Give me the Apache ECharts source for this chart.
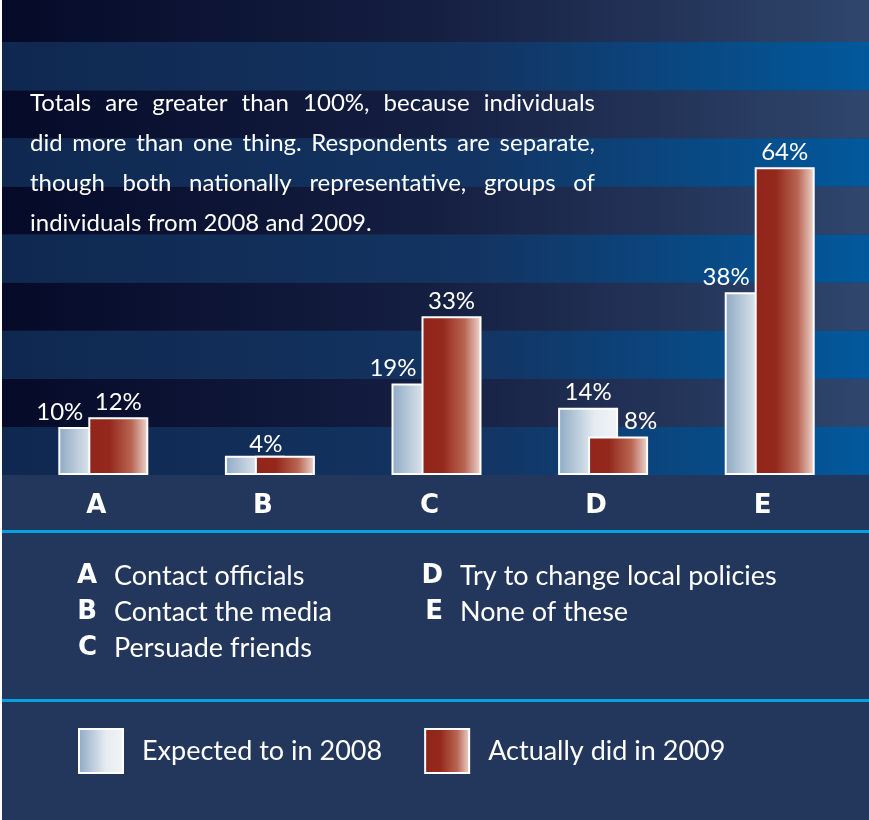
<!DOCTYPE html>
<html>
<head>
<meta charset="utf-8">
<script src="https://cdn.jsdelivr.net/npm/echarts@6/dist/echarts.min.js"></script>
<style>
  html, body { margin: 0; padding: 0; background: #fff; }
  #chart { width: 869px; height: 820px; }
</style>
</head>
<body>
<div id="chart"></div>
<script>
// data
const categories = ['A', 'B', 'C', 'D', 'E']
const categoryNames = ['Contact officials', 'Contact the media', 'Persuade friends', 'Try to change local policies', 'None of these']
const seriesNames = ['Expected to in 2008', 'Actually did in 2009']
const expected2008 = [10, 4, 19, 14, 38]
const actual2009 = [12, 4, 33, 8, 64]
const noteLines = [
  'Totals are greater than 100%, because individuals',
  'did more than one thing. Respondents are separate,',
  'though both nationally representative, groups of',
  'individuals from 2008 and 2009.'
]

const textFont = 'Lato'
const letterFont = 'DejaVu Sans'
const G = echarts.graphic

const fill2008 = new G.LinearGradient(0, 0, 1, 0, [
  { offset: 0, color: '#8ea9c4' },
  { offset: 0.6, color: '#e4ebf1' },
  { offset: 1, color: '#f3f5f7' }
])
const fill2009 = new G.LinearGradient(0, 0, 1, 0, [
  { offset: 0, color: '#91251a' },
  { offset: 0.35, color: '#94281b' },
  { offset: 0.72, color: '#b96654' },
  { offset: 1, color: '#efdad3' }
])
// background stripes, one per 10% of the value axis
const bandLight = new G.LinearGradient(0, 0, 1, 0, [
  { offset: 0, color: '#0f2850' },
  { offset: 0.55, color: '#133462' },
  { offset: 1, color: '#01599d' }
])
const bandDark = new G.LinearGradient(0, 0, 1, 0, [
  { offset: 0, color: '#050a28' },
  { offset: 0.5, color: '#151f42' },
  { offset: 1, color: '#30466c' }
])

// label tweaks where the overlapping bars would collide
function label2008(i) {
  if (i === 1) return { show: false }
  if (expected2008[i] > actual2009[i]) return {}
  return { align: 'right', offset: [-5, 0] }
}
function label2009(i) {
  if (i === 1) return { offset: [-19, 4] }
  if (expected2008[i] > actual2009[i]) return { align: 'left', offset: [6, 0] }
  return {}
}

// justified note text, one word per element
function noteGraphics() {
  const ctx = document.createElement('canvas').getContext('2d')
  const font = '24px ' + textFont
  ctx.font = font
  const left = 30
  const right = 595
  const out = []
  noteLines.forEach(function(line, li) {
    const words = line.split(' ')
    const y = 103 + li * 40
    if (li === noteLines.length - 1) {
      out.push({ type: 'text', x: left, y: y, z: 10, style: { text: line, fill: '#fff', font: font, verticalAlign: 'middle' } })
      return
    }
    const widths = words.map(function(w) { return ctx.measureText(w).width })
    const total = widths.reduce(function(a, b) { return a + b }, 0)
    const gap = (right - left - total) / (words.length - 1)
    let x = left
    words.forEach(function(w, wi) {
      out.push({ type: 'text', x: x, y: y, z: 10, style: { text: w, fill: '#fff', font: font, verticalAlign: 'middle' } })
      x += widths[wi] + gap
    })
  })
  return out
}

function keyGraphics() {
  const out = []
  categories.forEach(function(c, i) {
    const col = i < 3 ? 0 : 1
    const row = i % 3
    const y = 576.5 + row * 36
    out.push({ type: 'text', x: [97, 443][col], y: y, z: 10, style: { text: c, fill: '#fff', font: 'bold 26px ' + letterFont, align: 'right', verticalAlign: 'middle' } })
    out.push({ type: 'text', x: [114, 460][col], y: y, z: 10, style: { text: categoryNames[i], fill: '#fff', font: '27px ' + textFont, verticalAlign: 'middle' } })
  })
  return out
}

const chart = echarts.init(document.getElementById('chart'))

const labelBase = {
  show: true,
  position: 'top',
  distance: 3,
  color: '#fff',
  fontFamily: textFont,
  fontSize: 24,
  formatter: '{c}%'
}

// 4.81px per percent: the plot reaches the top edge at 98.75%
const yMax = 98.75

chart.setOption({
  backgroundColor: '#23375c',
  animation: false,
  grid: [
    { left: 20, right: 16, top: 0, bottom: 345 },
    { left: 2, right: 0, top: 0, bottom: 345 }
  ],
  xAxis: [
    {
      type: 'category',
      data: categories,
      axisLine: { show: false },
      axisTick: { show: false },
      axisLabel: {
        color: '#fff',
        fontFamily: letterFont,
        fontWeight: 'bold',
        fontSize: 26,
        margin: 18,
        padding: [0, 14, 0, 0]
      }
    },
    { type: 'value', gridIndex: 1, show: false, min: 0, max: 1 }
  ],
  yAxis: [
    { type: 'value', min: 0, max: yMax, show: false },
    {
      type: 'value',
      gridIndex: 1,
      min: 0,
      max: yMax,
      interval: 10,
      axisLine: { show: false },
      axisTick: { show: false },
      axisLabel: { show: false },
      splitLine: { show: false },
      splitArea: { show: true, areaStyle: { color: [bandLight, bandDark] } }
    }
  ],
  legend: {
    left: 78,
    top: 728,
    padding: 0,
    icon: 'rect',
    itemWidth: 44,
    itemHeight: 44,
    itemGap: 42,
    data: seriesNames,
    textStyle: { color: '#fff', fontFamily: textFont, fontSize: 27, padding: [0, 0, 0, 14] }
  },
  series: [
    {
      name: seriesNames[0],
      type: 'bar',
      barWidth: 60,
      barGap: '-50%',
      itemStyle: { color: fill2008, borderColor: '#fff', borderWidth: 2 },
      label: labelBase,
      data: expected2008.map(function(v, i) {
        return { value: v, label: label2008(i) }
      })
    },
    {
      name: seriesNames[1],
      type: 'bar',
      barWidth: 60,
      barGap: '-50%',
      itemStyle: { color: fill2009, borderColor: '#fff', borderWidth: 2 },
      label: labelBase,
      data: actual2009.map(function(v, i) {
        return { value: v, label: label2009(i) }
      })
    }
  ],
  graphic: [
    { type: 'rect', left: 0, top: 0, z: 10, shape: { width: 2, height: 820 }, style: { fill: '#fff' } },
    { type: 'rect', left: 2, top: 530, z: 10, shape: { width: 867, height: 3 }, style: { fill: '#00a4e4' } },
    { type: 'rect', left: 2, top: 699, z: 10, shape: { width: 867, height: 3 }, style: { fill: '#00a4e4' } },
    { type: 'group', z: 10, children: noteGraphics() },
    { type: 'group', z: 10, children: keyGraphics() }
  ]
})
</script>
</body>
</html>
